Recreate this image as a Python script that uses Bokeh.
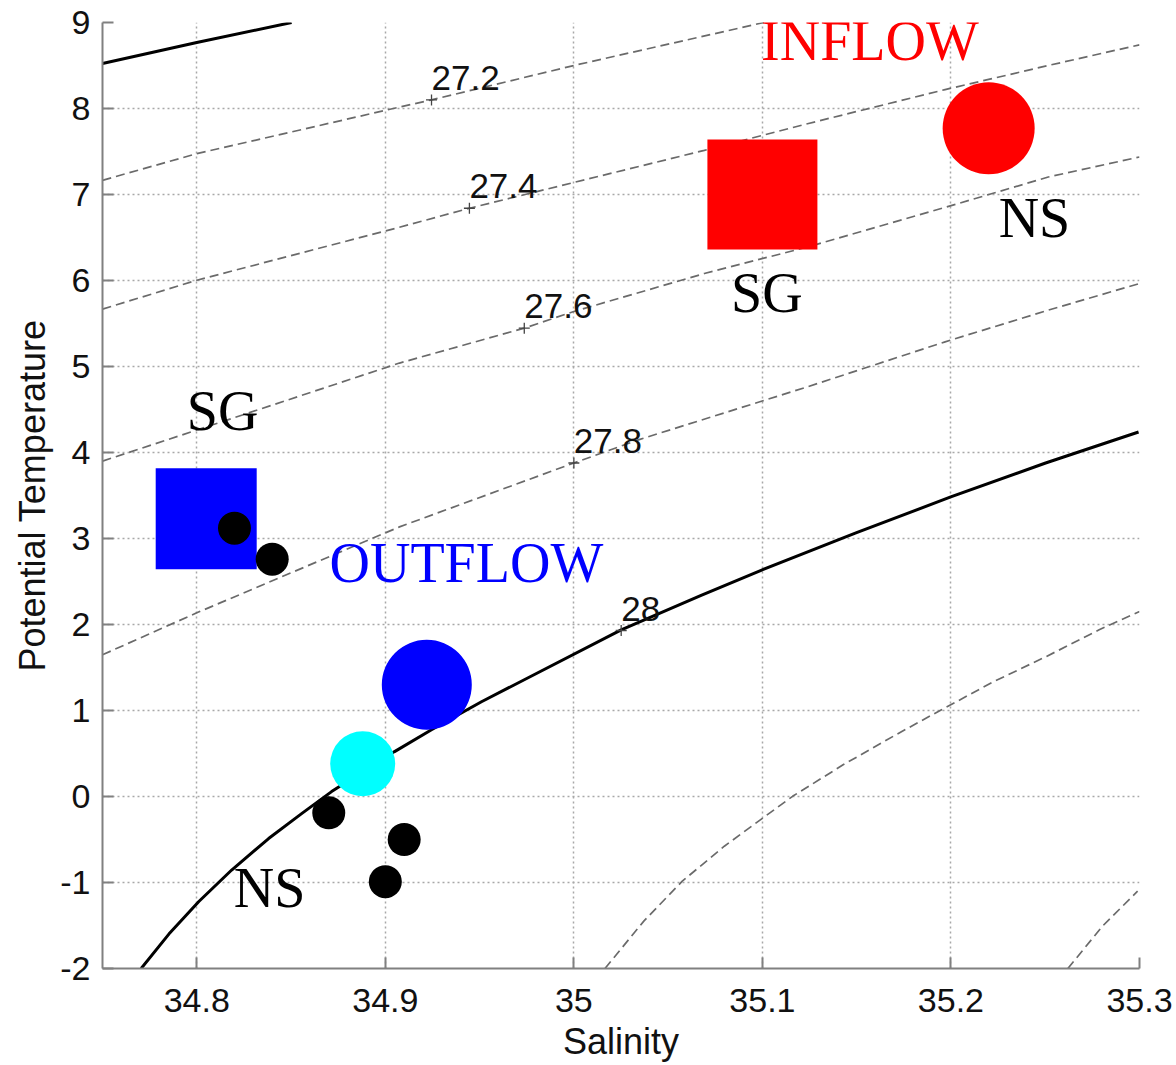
from bokeh.plotting import figure
from bokeh.models import Range1d, FixedTicker, CustomJSTickFormatter, ColumnDataSource, LabelSet
from bokeh.core.properties import value, field
from bokeh.embed import file_html
from bokeh.resources import INLINE

# ---- isopycnal contours (sigma-theta) ----
sig270_s = [34.75, 34.80, 34.8503]
sig270_t = [8.524, 8.768, 9.0]

sig272_s = [34.75, 34.80, 34.9075, 34.9245, 35.0, 35.1008]
sig272_t = [7.165, 7.475, 8.016, 8.10, 8.50, 9.0]

sig274_s = [34.75, 34.80, 34.9075, 34.9446, 35.0, 35.0692, 35.1239, 35.1969, 35.2516, 35.3]
sig274_t = [5.667, 6.003, 6.619, 6.84, 7.14, 7.513, 7.823, 8.22, 8.50, 8.74]

sig276_s = [34.75, 34.80, 34.9075, 34.9737, 35.0, 35.0692, 35.1239, 35.1969, 35.2516, 35.3]
sig276_t = [3.90, 4.261, 5.04, 5.446, 5.64, 6.081, 6.39, 6.85, 7.203, 7.436]

sig278_s = [34.75, 34.80, 34.9075, 35.0, 35.0346, 35.1239, 35.1969, 35.2516, 35.3]
sig278_t = [1.648, 2.136, 3.135, 3.878, 4.15, 4.764, 5.287, 5.655, 5.965]

sig280_s = [34.7705, 34.7852, 34.8011, 34.8185, 34.8381, 34.8556, 34.8715, 34.9049, 34.9245,
            34.9510, 34.9737, 35.0251, 35.0675, 35.0993, 35.1496, 35.1999, 35.2502, 35.2995]
sig280_t = [-2.0, -1.60, -1.221, -0.855, -0.489, -0.199, 0.057, 0.522, 0.777,
            1.102, 1.358, 1.938, 2.34, 2.63, 3.065, 3.483, 3.878, 4.238]

sig282_s = [35.0165, 35.0371, 35.0575, 35.0798, 35.1003, 35.1160, 35.1430, 35.1709,
            35.1950, 35.2229, 35.2507, 35.2786, 35.3]
sig282_t = [-2.0, -1.449, -0.985, -0.578, -0.249, 0.002, 0.371, 0.719,
            1.009, 1.338, 1.629, 1.939, 2.151]

sig284_s = [35.262, 35.2804, 35.299]
sig284_t = [-2.0, -1.507, -1.101]

# contour labels
clabel_text = ["27.2", "27.4", "27.6", "27.8", "28"]
clabel_s = [34.9245, 34.9446, 34.9737, 35.0, 35.0251]
clabel_t = [8.10, 6.84, 5.446, 3.878, 1.93]

# ---- water masses ----
inflow_sg_s, inflow_sg_t = [35.10], [7.00]
inflow_ns_s, inflow_ns_t = [35.22], [7.77]
outflow_sg_s, outflow_sg_t = [34.805], [3.23]
outflow_ns_s, outflow_ns_t = [34.922], [1.30]
cyan_s, cyan_t = [34.888], [0.38]
obs_s = [34.82, 34.84, 34.87, 34.91, 34.90]
obs_t = [3.12, 2.76, -0.19, -0.50, -0.99]

# annotation words (left edge, baseline)
ann_text = ["INFLOW", "NS", "SG", "SG", "OUTFLOW", "NS"]
ann_s = [35.0993, 35.2253, 35.0834, 34.7947, 34.8704, 34.8196]
ann_t = [8.56, 6.503, 5.632, 4.261, 2.496, -1.290]
ann_color = ["#ff0000", "#000000", "#000000", "#000000", "#0000ff", "#000000"]

x_ticks = [34.8, 34.9, 35.0, 35.1, 35.2, 35.3]
y_ticks = [-2, -1, 0, 1, 2, 3, 4, 5, 6, 7, 8, 9]

PX_T = 1 / 86.1   # one screen pixel in temperature units

p = figure(width=1176, height=1065,
           x_range=Range1d(34.75, 35.3), y_range=Range1d(-2, 9),
           output_backend="svg", toolbar_location=None,
           min_border_left=102, min_border_right=37,
           min_border_top=22, min_border_bottom=97)
p.outline_line_color = None
p.background_fill_color = "white"

fmt = CustomJSTickFormatter(code="return String(Number(tick.toFixed(2)));")
p.xaxis.ticker = FixedTicker(ticks=x_ticks)
p.yaxis.ticker = FixedTicker(ticks=y_ticks)
p.xaxis.formatter = fmt
p.yaxis.formatter = fmt
for ax in (p.xaxis[0], p.yaxis[0]):
    ax.axis_line_color = "#808080"
    ax.axis_line_width = 2
    ax.major_tick_line_color = "#808080"
    ax.major_tick_line_width = 2
    ax.major_tick_in = 11
    ax.major_tick_out = 0
    ax.minor_tick_line_color = None
    ax.major_label_text_font = "Liberation Sans"
    ax.major_label_text_font_size = "34px"
    ax.major_label_text_color = "#111111"
    ax.axis_label_text_font = "Liberation Sans"
    ax.axis_label_text_font_size = "36px"
    ax.axis_label_text_font_style = "normal"
    ax.axis_label_text_color = "#111111"
p.xaxis.axis_label = "Salinity"
p.yaxis.axis_label = "Potential Temperature"
p.xaxis.major_label_standoff = 20
p.xaxis.axis_label_standoff = 6
p.yaxis.major_label_standoff = 12
p.yaxis.axis_label_standoff = 4

for g in (p.xgrid[0], p.ygrid[0]):
    g.grid_line_color = "#a8a8a8"
    g.grid_line_dash = "2 3"
    g.grid_line_width = 1.5

# dashed isopycnals
for xs, ys in [(sig272_s, sig272_t), (sig274_s, sig274_t), (sig276_s, sig276_t),
               (sig278_s, sig278_t), (sig282_s, sig282_t), (sig284_s, sig284_t)]:
    p.line(xs, ys, line_color="#6a6a6a", line_width=1.7, line_dash="9 5")
# solid isopycnals
for xs, ys in [(sig270_s, sig270_t), (sig280_s, sig280_t)]:
    p.line(xs, ys, line_color="black", line_width=3, line_join="round")

# contour label markers and text
p.scatter(clabel_s, clabel_t, marker="cross", size=11, line_color="#444444", line_width=1.3)
p.text(clabel_s, [t + 22 * PX_T for t in clabel_t], text=clabel_text,
       text_font=value("Liberation Sans"), text_font_size="35px",
       text_color="#111111", text_baseline="alphabetic", text_align="left")

# water-mass markers
p.scatter(inflow_sg_s, inflow_sg_t, marker="square", size=110, fill_color="#ff0000", line_color=None)
p.scatter(inflow_ns_s, inflow_ns_t, marker="circle", size=92, fill_color="#ff0000", line_color=None)
p.scatter(outflow_sg_s, outflow_sg_t, marker="square", size=101, fill_color="#0000ff", line_color=None)
p.scatter(outflow_ns_s, outflow_ns_t, marker="circle", size=90, fill_color="#0000ff", line_color=None)
p.scatter(cyan_s, cyan_t, marker="circle", size=65, fill_color="#00ffff", line_color=None)
p.scatter(obs_s, obs_t, marker="circle", size=33, fill_color="black", line_color=None)

# annotations
ann_src = ColumnDataSource(dict(s=ann_s, t=ann_t, text=ann_text, color=ann_color))
p.add_layout(LabelSet(x="s", y="t", text="text", source=ann_src,
                      text_color=field("color"), text_font=value("Liberation Serif"),
                      text_font_size="56px", text_baseline="alphabetic", text_align="left"))

open("out.html", "w").write(file_html(p, INLINE))
